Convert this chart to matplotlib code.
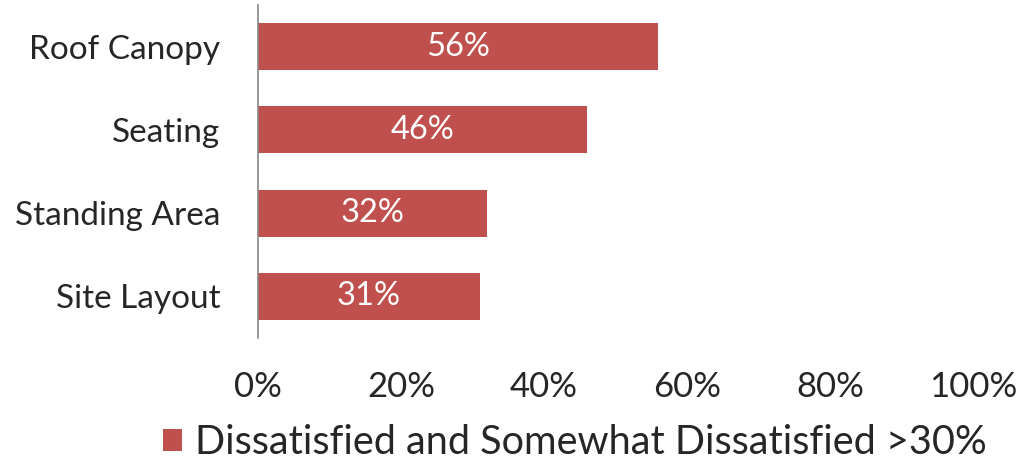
import matplotlib.pyplot as plt
from matplotlib.patches import Patch

# survey items with more than 30% dissatisfaction
categories = ['Roof Canopy', 'Seating', 'Standing Area', 'Site Layout']
values = [56, 46, 32, 31]
series_name = 'Dissatisfied and Somewhat Dissatisfied >30%'
xticks = [0, 20, 40, 60, 80, 100]

bar_color = '#C0504D'
text_color = '#262626'

plt.rcParams['font.family'] = ['Lato', 'DejaVu Sans']

fig = plt.figure(figsize=(10.18, 4.67), dpi=100)
ax = fig.add_axes([0.2534, 0.2762, 0.7026, 0.7131])

y = list(range(len(categories)))[::-1]
bars = ax.barh(y, values, height=0.565, color=bar_color)

for b, v in zip(bars, values):
    ax.text(b.get_width() / 2, b.get_y() + b.get_height() / 2, f'{v}%',
            ha='center', va='center', color='white', fontsize=23.5)

ax.set_xlim(0, 100)
ax.set_ylim(-0.5, len(categories) - 0.5)
ax.set_yticks(y)
ax.set_yticklabels(categories, fontsize=24, color=text_color)
ax.set_xticks(xticks)
ax.set_xticklabels([f'{t}%' for t in xticks], fontsize=25, color=text_color)
ax.tick_params(axis='both', length=0)
ax.tick_params(axis='y', pad=27)
ax.tick_params(axis='x', pad=24)

for side in ['top', 'right', 'bottom']:
    ax.spines[side].set_visible(False)
ax.spines['left'].set_color('#878787')
ax.spines['left'].set_linewidth(1.2)

handle = Patch(facecolor=bar_color, label=series_name)
fig.legend(handles=[handle], loc='center', bbox_to_anchor=(0.565, 0.052),
           frameon=False, fontsize=28.5, handlelength=0.48, handleheight=0.48,
           handletextpad=0.32, labelcolor=text_color)

fig.savefig('out.png', dpi=100)
